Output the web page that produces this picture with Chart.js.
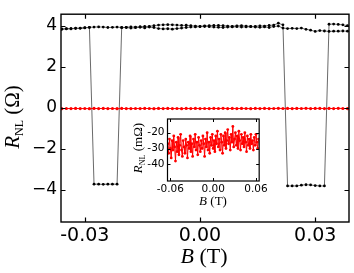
<!DOCTYPE html>
<html><head><meta charset="utf-8">
<script src="https://cdn.jsdelivr.net/npm/chart.js@4.4.0/dist/chart.umd.min.js"></script>
<style>
html,body{margin:0;padding:0;background:#fff;}
#wrap{position:relative;width:354px;height:273px;overflow:hidden;}
#main{position:absolute;left:0;top:0;}
#inset{position:absolute;left:120px;top:108px;}
</style></head><body>
<div id="wrap"><canvas id="main" width="354" height="273"></canvas><canvas id="inset" width="150" height="105"></canvas></div>
<script>
// ---- data (B in tesla, R in ohm / milliohm) ----
const blackField = [-0.036,-0.0348,-0.0336,-0.0324,-0.0312,-0.03,-0.0288,-0.0276,-0.0264,-0.0252,-0.024,-0.0228,-0.0216,-0.0204,-0.0192,-0.018,-0.0168,-0.0156,-0.0144,-0.0132,-0.012,-0.0108,-0.0096,-0.0084,-0.0072,-0.006,-0.0048,-0.0036,-0.0024,-0.0012,0,0.0012,0.0024,0.0036,0.0048,0.006,0.0072,0.0084,0.0096,0.0108,0.012,0.0132,0.0144,0.0156,0.0168,0.018,0.0192,0.0204,0.0216,0.0228,0.024,0.0252,0.0264,0.0276,0.0288,0.03,0.0312,0.0324,0.0336,0.0348,0.036,0.0372,0.0384];
const sweepUp = [3.86,3.88,3.87,3.90,3.89,3.91,3.93,-3.72,-3.72,-3.73,-3.72,-3.72,-3.72,3.92,3.93,3.90,3.92,3.94,3.91,3.95,3.93,3.88,3.86,3.87,3.85,3.88,3.90,3.93,3.95,3.96,3.97,3.98,3.97,3.95,3.94,3.93,3.95,3.96,3.97,3.95,3.96,3.97,3.95,3.94,3.96,3.93,3.98,4.00,3.90,3.88,3.89,3.88,3.90,3.84,3.80,3.74,3.78,3.76,3.74,3.75,3.75,3.76,3.75];
const sweepDown = [3.84,3.86,3.87,3.88,3.90,3.92,3.94,3.95,3.96,3.95,3.93,3.94,3.95,3.93,3.94,3.96,3.95,3.97,3.98,3.99,4.02,4.05,4.06,4.07,4.06,4.05,4.03,4.04,4.02,4.00,3.99,4.01,4.02,4.03,4.03,4.02,4.00,3.99,4.01,4.02,4.00,3.98,3.99,4.01,4.00,4.03,4.05,4.14,4.06,-3.81,-3.81,-3.81,-3.77,-3.75,-3.76,-3.79,-3.81,-3.81,4.09,4.10,4.08,4.06,4.02];
const redField = [-0.0636,-0.0624,-0.0612,-0.06,-0.0588,-0.0576,-0.0564,-0.0552,-0.054,-0.0528,-0.0516,-0.0504,-0.0492,-0.048,-0.0468,-0.0456,-0.0444,-0.0432,-0.042,-0.0408,-0.0396,-0.0384,-0.0372,-0.036,-0.0348,-0.0336,-0.0324,-0.0312,-0.03,-0.0288,-0.0276,-0.0264,-0.0252,-0.024,-0.0228,-0.0216,-0.0204,-0.0192,-0.018,-0.0168,-0.0156,-0.0144,-0.0132,-0.012,-0.0108,-0.0096,-0.0084,-0.0072,-0.006,-0.0048,-0.0036,-0.0024,-0.0012,0,0.0012,0.0024,0.0036,0.0048,0.006,0.0072,0.0084,0.0096,0.0108,0.012,0.0132,0.0144,0.0156,0.0168,0.018,0.0192,0.0204,0.0216,0.0228,0.024,0.0252,0.0264,0.0276,0.0288,0.03,0.0312,0.0324,0.0336,0.0348,0.036,0.0372,0.0384,0.0396,0.0408,0.042,0.0432,0.0444,0.0456,0.0468,0.048,0.0492,0.0504,0.0516,0.0528,0.054,0.0552,0.0564,0.0576,0.0588,0.06,0.0612,0.0624,0.0636];
const redMilliOhm = [-27,-33,-24,-30,-36,-25,-31,-22,-29,-38,-26,-32,-23,-34,-28,-21,-31,-35,-25,-29,-33,-24,-28,-36,-26,-30,-22,-32,-27,-35,-24,-29,-21,-31,-26,-34,-23,-28,-32,-25,-30,-22,-27,-35,-24,-29,-20,-31,-26,-33,-23,-28,-21,-30,-25,-32,-22,-27,-19,-29,-24,-31,-21,-26,-33,-22,-28,-20,-30,-25,-18,-27,-23,-31,-21,-26,-16,-29,-24,-20,-28,-22,-30,-19,-25,-31,-21,-27,-23,-29,-20,-26,-32,-22,-28,-24,-30,-21,-27,-25,-31,-23,-28,-21,-26,-30,-24];
const mainXTicks = [-0.03, 0, 0.03];
const mainYTicks = [-4, -2, 0, 2, 4];
const insetXTicks = [-0.06, 0, 0.06];
const insetYTicks = [-40, -30, -20];

const pts = (xs, ys, f) => xs.map((x, i) => ({x: x, y: f ? f(ys[i]) : ys[i]}));

function drawRich(ctx, parts, cx, cy, rot) {
  ctx.save();
  ctx.translate(cx, cy);
  if (rot) ctx.rotate(rot);
  let w = 0;
  parts.forEach(p => { ctx.font = p.font; w += ctx.measureText(p.t).width; });
  let x = -w / 2;
  ctx.fillStyle = '#000';
  ctx.textBaseline = 'alphabetic';
  parts.forEach(p => { ctx.font = p.font; ctx.fillText(p.t, x, p.dy || 0); x += ctx.measureText(p.t).width; });
  ctx.restore();
}

const frame = {
  id: 'frame',
  beforeDraw(chart, a, o) {
    if (o.fill) { const c = chart.chartArea, ctx = chart.ctx; ctx.save(); ctx.fillStyle = '#fff'; ctx.fillRect(c.left, c.top, c.right - c.left, c.bottom - c.top); ctx.restore(); }
  },
  afterDraw(chart, a, o) {
    const ctx = chart.ctx, c = chart.chartArea, xs = chart.scales.x, ys = chart.scales.y;
    ctx.save();
    ctx.strokeStyle = '#000'; ctx.lineWidth = o.lw;
    ctx.strokeRect(c.left, c.top, c.right - c.left, c.bottom - c.top);
    ctx.lineWidth = o.tw;
    ctx.beginPath();
    xs.ticks.forEach(t => { const p = Math.round(xs.getPixelForValue(t.value)) + 0.5; ctx.moveTo(p, c.bottom); ctx.lineTo(p, c.bottom - o.len); ctx.moveTo(p, c.top); ctx.lineTo(p, c.top + o.len); });
    ys.ticks.forEach(t => { const p = Math.round(ys.getPixelForValue(t.value)) + 0.5; ctx.moveTo(c.left, p); ctx.lineTo(c.left + o.len, p); ctx.moveTo(c.right, p); ctx.lineTo(c.right - o.len, p); });
    ctx.stroke();
    ctx.restore();
    o.titles.forEach(t => drawRich(ctx, t.parts, t.x, t.y, t.rot));
  }
};

const serif = '"Liberation Serif", "Times New Roman", serif';
const sans = '"DejaVu Sans", sans-serif';

new Chart(document.getElementById('main'), {
  type: 'scatter',
  data: { datasets: [
    { data: pts(redField, redMilliOhm, v => v / 1000), showLine: true, borderColor: '#ff0000', borderWidth: 1, pointRadius: 1.6, pointBackgroundColor: '#ff0000', pointBorderWidth: 0, clip: 0 },
    { data: pts(blackField, sweepUp), showLine: true, borderColor: '#444', borderWidth: 0.8, pointRadius: 1.4, pointBackgroundColor: '#000', pointBorderWidth: 0, clip: 0 },
    { data: pts(blackField, sweepDown), showLine: true, borderColor: '#444', borderWidth: 0.8, pointRadius: 1.4, pointBackgroundColor: '#000', pointBorderWidth: 0, clip: 0 }
  ]},
  options: {
    responsive: false, animation: false, devicePixelRatio: 1,
    layout: { padding: { left: 0, right: 5, top: 5, bottom: 0 } },
    plugins: { legend: { display: false }, tooltip: { enabled: false },
      frame: { lw: 1.4, tw: 1.2, len: 4.5, titles: [
        { parts: [{t: 'R', font: 'italic 21px ' + serif}, {t: 'NL', font: '12px ' + serif, dy: 4}, {t: ' (\u03A9)', font: '21px ' + serif}], x: 19, y: 117, rot: -Math.PI / 2 },
        { parts: [{t: 'B', font: 'italic 22px ' + serif}, {t: ' (T)', font: '22px ' + serif}], x: 204, y: 263 }
      ] } },
    scales: {
      x: { type: 'linear', min: -0.0362, max: 0.0388,
        afterBuildTicks: s => { s.ticks = mainXTicks.map(v => ({value: v})); },
        afterFit: s => { s.height = 51; },
        grid: { display: false, drawTicks: false }, border: { display: false },
        ticks: { autoSkip: false, maxRotation: 0, padding: 3, color: '#000', font: { family: sans, size: 19 }, callback: v => Number(v).toFixed(2) } },
      y: { type: 'linear', min: -5.57, max: 4.58,
        afterBuildTicks: s => { s.ticks = mainYTicks.map(v => ({value: v})); },
        afterFit: s => { s.width = 61; },
        grid: { display: false, drawTicks: false }, border: { display: false },
        ticks: { autoSkip: false, padding: 4, color: '#000', font: { family: sans, size: 17 }, callback: v => v < 0 ? '\u2212' + (-v) : String(v) } }
    }
  },
  plugins: [frame]
});

new Chart(document.getElementById('inset'), {
  type: 'scatter',
  data: { datasets: [
    { data: pts(redField, redMilliOhm), showLine: true, borderColor: '#ff0000', borderWidth: 1, pointRadius: 1.4, pointBackgroundColor: '#ff0000', pointBorderWidth: 0, clip: 0 }
  ]},
  options: {
    responsive: false, animation: false, devicePixelRatio: 1,
    layout: { padding: { left: 0, right: 10, top: 11, bottom: 0 } },
    plugins: { legend: { display: false }, tooltip: { enabled: false },
      frame: { fill: true, lw: 1.2, tw: 1, len: 3, titles: [
        { parts: [{t: 'R', font: 'italic 13px ' + serif}, {t: 'NL', font: '8px ' + serif, dy: 2.5}, {t: ' (m\u03A9)', font: '13px ' + serif}], x: 22, y: 40, rot: -Math.PI / 2 },
        { parts: [{t: 'B', font: 'italic 13px ' + serif}, {t: ' (T)', font: '13px ' + serif}], x: 93, y: 97 }
      ] } },
    scales: {
      x: { type: 'linear', min: -0.064, max: 0.0645,
        afterBuildTicks: s => { s.ticks = insetXTicks.map(v => ({value: v})); },
        afterFit: s => { s.height = 32; },
        grid: { display: false, drawTicks: false }, border: { display: false },
        ticks: { autoSkip: false, maxRotation: 0, padding: 2, color: '#000', font: { family: sans, size: 10.5 }, callback: v => Number(v).toFixed(2) } },
      y: { type: 'linear', min: -50.6, max: -11.3,
        afterBuildTicks: s => { s.ticks = insetYTicks.map(v => ({value: v})); },
        afterFit: s => { s.width = 47.5; },
        grid: { display: false, drawTicks: false }, border: { display: false },
        ticks: { autoSkip: false, padding: 3, color: '#000', font: { family: sans, size: 10.5 }, callback: v => String(v) } }
    }
  },
  plugins: [frame]
});
</script>
</body></html>
